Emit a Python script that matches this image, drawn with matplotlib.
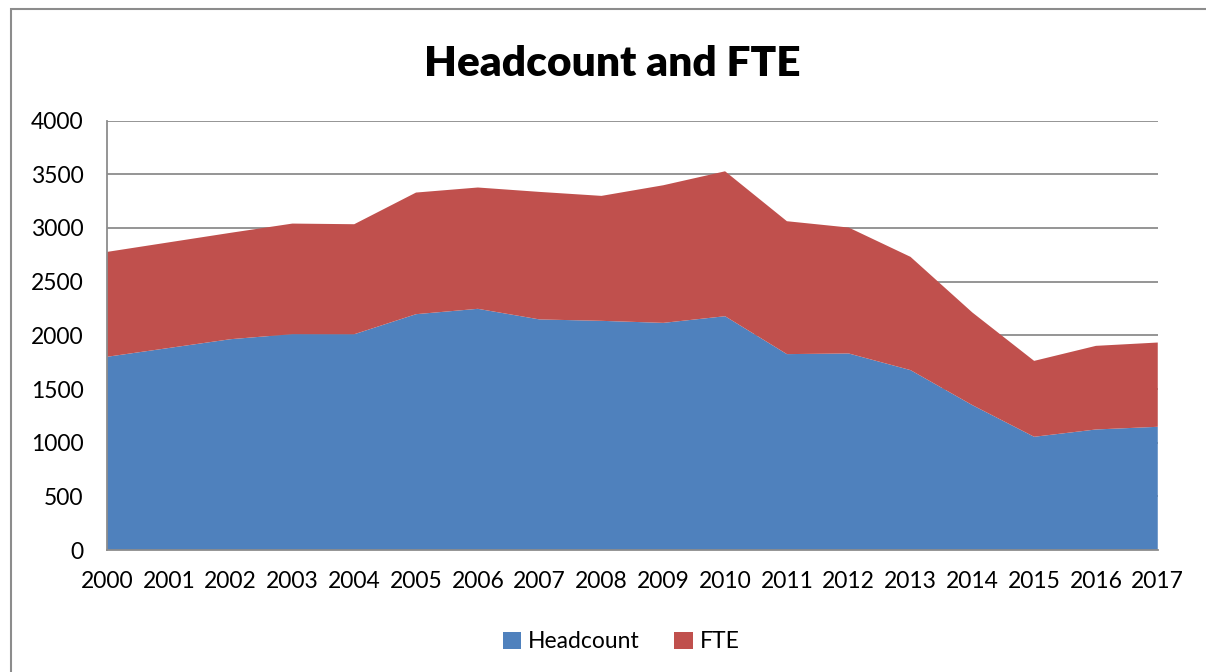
import matplotlib.pyplot as plt
from matplotlib.patches import Rectangle

# valeurs
annees = [2000, 2001, 2002, 2003, 2004, 2005, 2006, 2007, 2008,
          2009, 2010, 2011, 2012, 2013, 2014, 2015, 2016, 2017]
headcount = [1800, 1882, 1964, 2011, 2010, 2197, 2247, 2148, 2135,
             2116, 2178, 1825, 1831, 1676, 1350, 1055, 1123, 1148]
fte = [977, 984, 991, 1030, 1025, 1133, 1130, 1188, 1164,
       1282, 1350, 1238, 1173, 1055, 863, 707, 779, 785]
graduations = [0, 500, 1000, 1500, 2000, 2500, 3000, 3500, 4000]

plt.rcParams['font.family'] = ['Lato', 'DejaVu Sans']

fig = plt.figure(figsize=(12.06, 6.72), dpi=100)
ax = fig.add_axes([0.0887, 0.1815, 0.8713, 0.639])

ax.stackplot(annees, headcount, fte, colors=["#4f81bd", "#c0504d"],
             labels=["Headcount", "FTE"], zorder=2)

ax.set_xlim(annees[0], annees[-1])
ax.set_ylim(0, 4000)
ax.set_xticks(annees)
ax.set_xticklabels([str(a) for a in annees])
ax.set_yticks(graduations)
ax.grid(axis="y", color="#8c8c8c", linewidth=1.3, zorder=1)
ax.set_axisbelow(True)
ax.tick_params(length=0, labelsize=16.5, colors="black")
ax.tick_params(axis="y", pad=17)
ax.tick_params(axis="x", pad=15)
for cote in ["top", "right"]:
    ax.spines[cote].set_visible(False)
for cote in ["left", "bottom"]:
    ax.spines[cote].set_color("#8c8c8c")
    ax.spines[cote].set_linewidth(1.3)
    ax.spines[cote].set_zorder(3)

fig.text(0.508, 0.905, "Headcount and FTE", ha="center", va="center",
         fontsize=30.5, fontweight="heavy")

fig.legend(loc="center", bbox_to_anchor=(0.515, 0.045), ncol=2, frameon=False,
           fontsize=16.5, handlelength=0.8, handleheight=0.8, columnspacing=1.5,
           handletextpad=0.3)

# cadre gris autour du graphique
fig.patches.append(Rectangle((11 / 1206, -0.01), 1.0, 1 - 9 / 672 + 0.01,
                             transform=fig.transFigure, fill=False,
                             edgecolor="#8c8c8c", linewidth=1.5))

fig.savefig("out.png", dpi=100)
